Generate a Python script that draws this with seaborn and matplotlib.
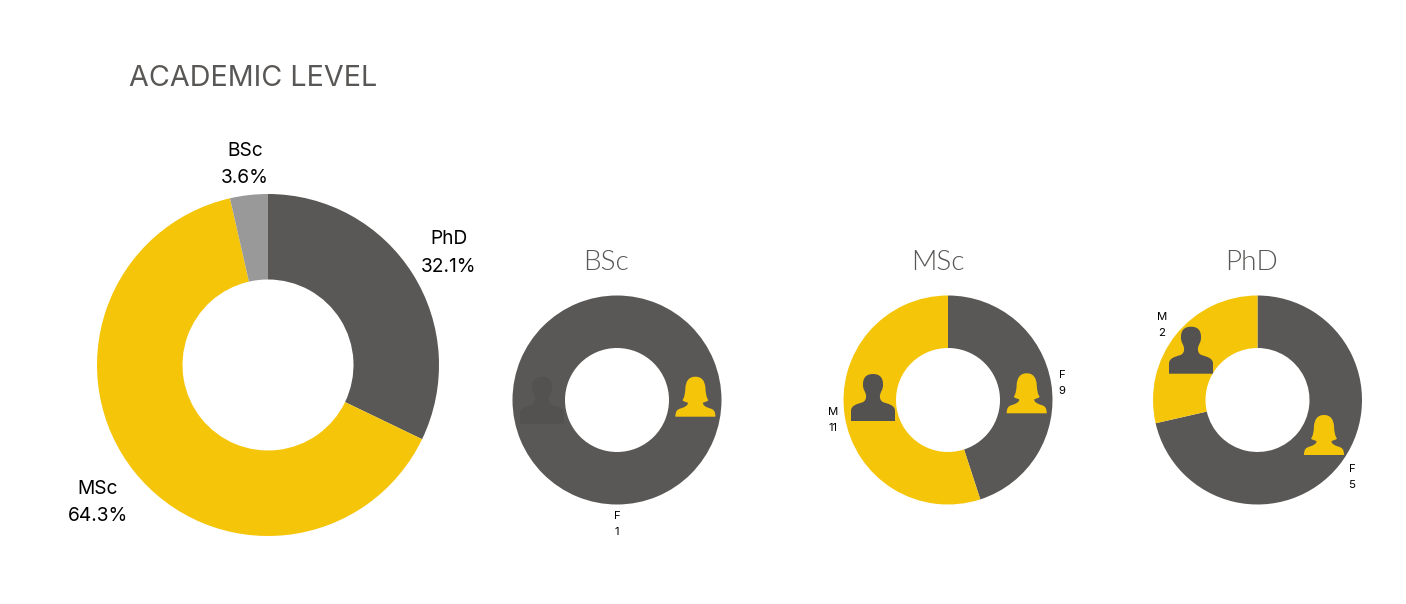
import matplotlib
matplotlib.use('Agg')
import matplotlib.pyplot as plt
from matplotlib.patches import PathPatch
from matplotlib.path import Path
import seaborn as sns

sns.set_theme(style='white')
plt.rcParams['font.family'] = ['Inter', 'DejaVu Sans']

W, H = 1406, 604

DARK, YELLOW, GREY = sns.color_palette(['#5A5856', '#F5C50A', '#999999'])
ICON_DARK = '#545250'

# share of each level
levels = ['PhD', 'MSc', 'BSc']
level_counts = [9, 18, 1]
level_pct = ['32.1%', '64.3%', '3.6%']

# female / male count per level
small_names = ['BSc', 'MSc', 'PhD']
female_counts = [1, 9, 5]
male_counts = [0, 11, 2]


def donut(cx, cy, r, hole, values, colors):
    # axes is placed in pixels so that the ring lands on cx, cy
    pad = 1.05
    ax = plt.gcf().add_axes([(cx - r * pad) / W, 1 - (cy + r * pad) / H,
                             2 * r * pad / W, 2 * r * pad / H])
    ax.pie(values, colors=colors, startangle=90, counterclock=False, radius=1,
           wedgeprops={'width': 1 - hole / r, 'linewidth': 0})
    ax.set_xlim(-pad, pad)
    ax.set_ylim(-pad, pad)
    return ax


def half_outline(pts):
    # pts: start then triples of bezier points down the right side; left side is mirrored
    verts = [pts[0]]
    codes = [Path.MOVETO]
    for p in pts[1:]:
        verts.append(p)
        codes.append(Path.CURVE4)
    back = [(-x, y) for x, y in pts[::-1]]
    for p in back:
        verts.append(p)
        codes.append(Path.LINETO if p == back[0] else Path.CURVE4)
    verts.append(pts[0])
    codes.append(Path.CLOSEPOLY)
    return verts, codes


FEMALE = [(0, 0), (7, 0), (9.5, 5), (10, 11), (10.3, 17), (11, 21), (13, 23.5),
          (11.5, 25), (9, 25.5), (7.5, 26), (7.5, 29), (10, 30), (14, 31.5),
          (18, 32.5), (20, 34), (20, 40)]
MALE = [(0, 0), (7, 0), (10, 4), (10, 10), (10.5, 15), (7.5, 18), (7, 21),
        (6.5, 25), (8, 27.5), (11, 28.5), (16, 30), (22, 31.5), (22, 37),
        (22, 41), (22, 44), (22, 47)]


def icon(ov, shape, cx, top, color):
    verts, codes = half_outline(shape)
    verts = [(cx + x, top + y) for x, y in verts]
    ov.add_patch(PathPatch(Path(verts, codes), facecolor=color, edgecolor='none'))


fig = plt.figure(figsize=(W / 100, H / 100), dpi=100, facecolor='white')

donut(268, 365, 171, 85.5, level_counts, [DARK, YELLOW, GREY])
centers = [617, 948, 1257.5]
for i in range(3):
    donut(centers[i], 400, 104.5, 52, [female_counts[i], male_counts[i]], [DARK, YELLOW])

# overlay in pixel coordinates for the text and the icons
ov = fig.add_axes([0, 0, 1, 1], facecolor='none')
ov.set_xlim(0, W)
ov.set_ylim(H, 0)
ov.axis('off')

ov.text(129, 78.5, 'ACADEMIC LEVEL', fontsize=20.7, color='#595755', ha='left', va='center')

big_pos = [(448.5, 253), (98, 502.5), (245, 164.5)]
for i in range(3):
    ov.text(big_pos[i][0], big_pos[i][1], f'{levels[i]}\n{level_pct[i]}', fontsize=13.8,
            color='black', ha='center', va='center', linespacing=1.7)

for i in range(3):
    ov.text([605.5, 937.5, 1251.5][i], 263, small_names[i], fontsize=20.2, color='#595755', family='Lato',
            fontweight=300, ha='center', va='center')

small_labels = [(617, 524, 'F', female_counts[0]), (1062, 383, 'F', female_counts[1]),
                (833, 420, 'M', male_counts[1]), (1162, 325, 'M', male_counts[2]),
                (1352, 477, 'F', female_counts[2])]
for x, y, sex, n in small_labels:
    ov.text(x, y, f'{sex}\n{n}', fontsize=8.2, color='black', ha='center', va='center', linespacing=1.75)

icon(ov, MALE, 542, 376.7, ICON_DARK)
icon(ov, FEMALE, 695.4, 376.7, YELLOW)
icon(ov, MALE, 873, 374, ICON_DARK)
icon(ov, FEMALE, 1026.7, 373.3, YELLOW)
icon(ov, MALE, 1191, 326.7, ICON_DARK)
icon(ov, FEMALE, 1324, 415, YELLOW)

fig.savefig('out.png', dpi=100)
